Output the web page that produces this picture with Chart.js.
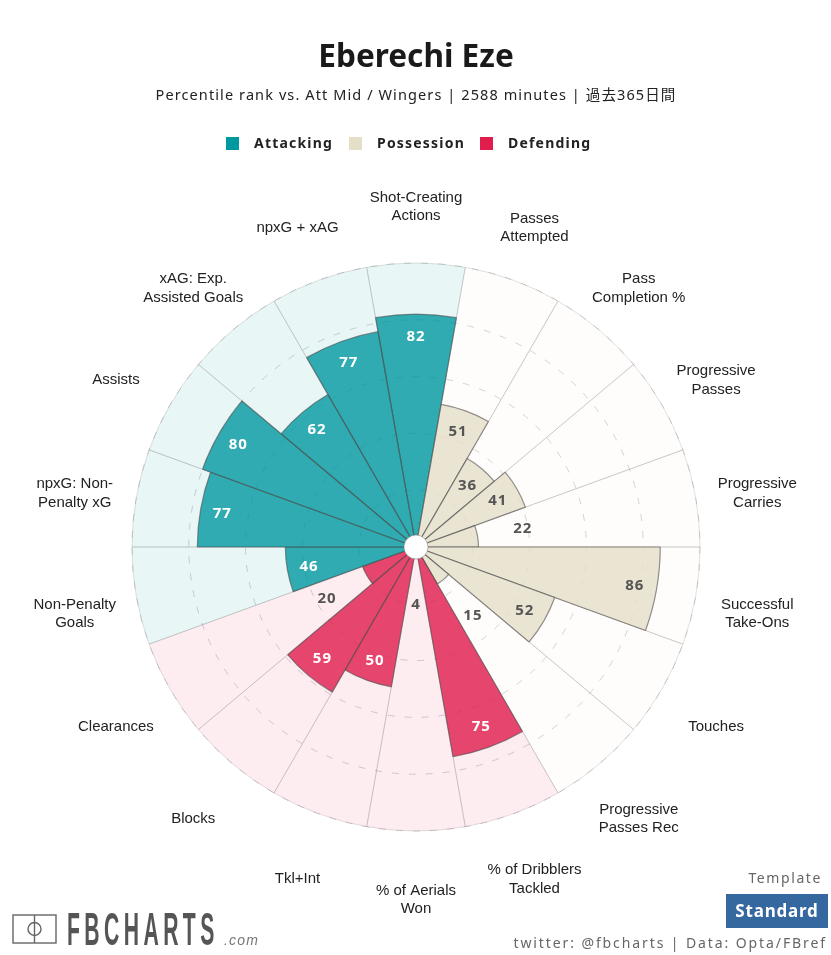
<!DOCTYPE html>
<html><head><meta charset="utf-8">
<style>
html,body{margin:0;padding:0;background:#fff;width:831px;height:955px;overflow:hidden}
#wrap{position:relative;width:831px;height:955px}
canvas{position:absolute;left:0;top:0}
.t{position:absolute;white-space:nowrap;font-family:"Noto Sans","Noto Sans CJK JP",sans-serif}
#title{left:0;width:832px;top:33px;text-align:center;font-size:31.6px;line-height:44px;font-weight:700;color:#1a1a1a}
#sub{left:0;width:832px;top:84px;text-align:center;font-size:14.5px;line-height:20px;letter-spacing:1.1px;color:#222}
.sw{position:absolute;top:137px;width:13px;height:13px}
.lg{position:absolute;top:133px;line-height:20px;font-size:14px;font-weight:700;letter-spacing:1.2px;color:#222;white-space:nowrap;font-family:"Noto Sans",sans-serif}
#tpl{right:9px;top:868px;font-size:14px;line-height:20px;letter-spacing:1.6px;color:#666}
#std{left:726px;top:894px;width:102px;height:34px;background:#34689f;color:#fff;text-align:center;font-size:17px;line-height:34px;font-weight:700;letter-spacing:.8px}
#src{right:4px;top:933px;font-size:14px;line-height:20px;letter-spacing:1.9px;color:#666}
#fb{left:67px;top:901px;font-family:"Liberation Sans Narrow","Liberation Sans",sans-serif;font-size:46px;line-height:56px;font-weight:700;color:#555;letter-spacing:9.6px;transform-origin:0 0;transform:scaleX(.46)}
#com{left:224px;top:931px;font-family:"Liberation Sans",sans-serif;font-style:italic;font-size:14px;line-height:18px;letter-spacing:1.2px;color:#777}
svg{position:absolute;left:12px;top:913px}
</style></head><body>
<div id="wrap">
<canvas id="c" width="831" height="955"></canvas>
<div class="t" id="title"></div>
<div class="t" id="sub"></div>
<div id="legend"></div>
<svg width="46" height="32" viewBox="0 0 46 32" fill="none" stroke="#666" stroke-width="1.4"><rect x="1" y="2" width="43" height="28"/><line x1="22.5" y1="2" x2="22.5" y2="30"/><circle cx="22.5" cy="16" r="6.5"/></svg>
<div class="t" id="fb">FBCHARTS</div>
<div class="t" id="com">.com</div>
<div class="t" id="tpl">Template</div>
<div class="t" id="std">Standard</div>
<div class="t" id="src">twitter: @fbcharts | Data: Opta/FBref</div>
</div>
<script src="https://cdn.jsdelivr.net/npm/chart.js@4"></script>
<script>
const playerName = "Eberechi Eze";
const subtitleText = "Percentile rank vs. Att Mid / Wingers | 2588 minutes | 過去365日間";
const categories = [
 ["Shot-Creating","Actions"],["Passes","Attempted"],["Pass","Completion %"],["Progressive","Passes"],
 ["Progressive","Carries"],["Successful","Take-Ons"],["Touches"],["Progressive","Passes Rec"],
 ["% of Dribblers","Tackled"],["% of Aerials","Won"],["Tkl+Int"],["Blocks"],["Clearances"],
 ["Non-Penalty","Goals"],["npxG: Non-","Penalty xG"],["Assists"],["xAG: Exp.","Assisted Goals"],["npxG + xAG"]
];
const percentiles = [82,51,36,41,22,86,52,15,75,4,50,59,20,46,77,80,62,77];
const groups = ["A","P","P","P","P","P","P","P","D","D","D","D","D","A","A","A","A","A"];
const fullScale = [100,100,100,100,100,100,100,100,100,100,100,100,100,100,100,100,100,100];
const groupNames = {A:"Attacking",P:"Possession",D:"Defending"};
const groupRGB = {A:"0,153,160",P:"230,223,200",D:"225,29,77"};
const groupTint = {A:.09,P:.06,D:.08};
const radiusTicks = {min:0,max:100,step:20};

document.getElementById('title').textContent = playerName;
document.getElementById('sub').textContent = subtitleText;
const swatchX = {A:226,P:349,D:480}, textX = {A:254,P:377,D:508};
document.getElementById('legend').innerHTML = Object.keys(groupNames).map(k =>
 `<div class="sw" style="left:${swatchX[k]}px;background:rgb(${groupRGB[k]})"></div><div class="lg" style="left:${textX[k]}px">${groupNames[k]}</div>`).join('');

const LABEL_R = 346.5, LABEL_DY = 6.5, HOLE_R = 12;
const overlay = {
 id:'overlay',
 afterDatasetsDraw(chart){
  const ctx = chart.ctx, s = chart.scales.r, step = 2*Math.PI/categories.length;
  const cx = s.xCenter, cy = s.yCenter;
  ctx.save();
  ctx.beginPath(); ctx.arc(cx,cy,HOLE_R,0,2*Math.PI);
  ctx.fillStyle='#fff'; ctx.fill();
  ctx.lineWidth=1; ctx.strokeStyle='rgba(120,120,120,.5)'; ctx.stroke();
  ctx.textAlign='center'; ctx.textBaseline='middle';
  ctx.font='700 15px "Noto Sans",sans-serif';
  ctx.letterSpacing='1px';
  percentiles.forEach((v,i)=>{
    const a = s.getIndexAngle(i)+step/2;
    const r = s.getDistanceFromCenterForValue(v);
    const outside = v < 30;
    const d = outside ? r+46 : r-22;
    ctx.fillStyle = (outside || groups[i]==='P') ? '#555' : '#fff';
    ctx.fillText(String(v), cx+d*Math.sin(a), cy-d*Math.cos(a)+0.5);
  });
  ctx.letterSpacing='0px';
  ctx.font='15px "Liberation Sans",Arial,sans-serif';
  ctx.fillStyle='#222';
  categories.forEach((lines,i)=>{
    const a = s.getIndexAngle(i)+step/2;
    const x = cx+LABEL_R*Math.sin(a), y = cy-LABEL_R*Math.cos(a)+LABEL_DY;
    lines.forEach((t,j)=>ctx.fillText(t,x,y+(j-(lines.length-1)/2)*18.6));
  });
  ctx.restore();
 }
};
new Chart(document.getElementById('c'),{
 type:'polarArea',
 data:{
  labels:categories.map(l=>l.join(' ')),
  datasets:[
   {label:'Percentile',data:percentiles,
    backgroundColor:groups.map(g=>`rgba(${groupRGB[g]},.8)`),
    borderColor:'rgba(80,80,80,.62)',borderWidth:1.2},
   {label:'Scale',data:fullScale,
    backgroundColor:groups.map(g=>`rgba(${groupRGB[g]},${groupTint[g]})`),
    borderColor:'rgba(120,120,120,.22)',borderWidth:1}
  ]
 },
 options:{
  responsive:false,animation:false,devicePixelRatio:1,
  layout:{padding:{top:263,bottom:124,left:132,right:131}},
  plugins:{legend:{display:false},tooltip:{enabled:false},title:{display:false}},
  scales:{r:{
   min:radiusTicks.min,max:radiusTicks.max,startAngle:-10,
   ticks:{display:false,stepSize:radiusTicks.step},
   grid:{circular:true,color:'#d2d2d2',lineWidth:1},
   border:{dash:[7,10]},
   angleLines:{display:false},pointLabels:{display:false}
  }}
 },
 plugins:[overlay]
});
</script>
</body></html>
